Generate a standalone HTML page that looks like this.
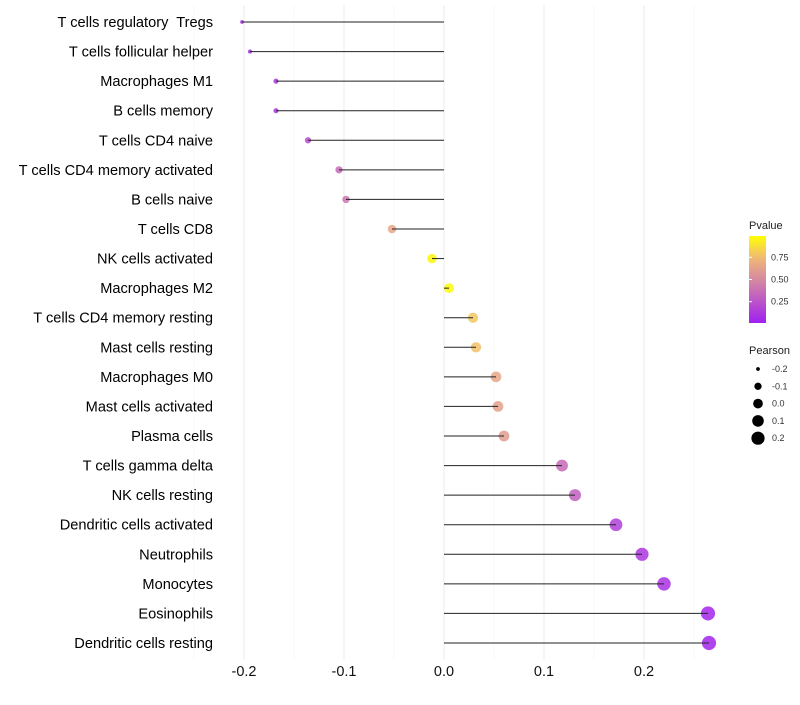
<!DOCTYPE html>
<html><head><meta charset="utf-8"><style>
body{margin:0;background:#fff;font-family:"Liberation Sans",sans-serif;}
text{white-space:pre;}
</style></head><body>
<svg id="chart" width="800" height="700" xmlns="http://www.w3.org/2000/svg"></svg>
<script>
const categories=["T cells regulatory  Tregs","T cells follicular helper","Macrophages M1","B cells memory","T cells CD4 naive","T cells CD4 memory activated","B cells naive","T cells CD8","NK cells activated","Macrophages M2","T cells CD4 memory resting","Mast cells resting","Macrophages M0","Mast cells activated","Plasma cells","T cells gamma delta","NK cells resting","Dendritic cells activated","Neutrophils","Monocytes","Eosinophils","Dendritic cells resting"];
const pearson=[-0.202,-0.194,-0.168,-0.168,-0.136,-0.105,-0.098,-0.052,-0.012,0.005,0.029,0.032,0.052,0.054,0.060,0.118,0.131,0.172,0.198,0.220,0.264,0.265];
const pvalues=[0.02,0.05,0.1,0.1,0.2,0.35,0.4,0.65,0.97,0.99,0.8,0.78,0.66,0.63,0.6,0.35,0.3,0.15,0.1,0.08,0.03,0.02];
const xTicks=[-0.2,-0.1,0.0,0.1,0.2];
const xTickLabels=["-0.2","-0.1","0.0","0.1","0.2"];
const legendP=[0.25,0.50,0.75];
const legendS=[-0.2,-0.1,0.0,0.1,0.2];
const NS="http://www.w3.org/2000/svg";
const svg=document.getElementById('chart');
function X(v){return 444+v*1000;}
function Y(i){return 22+i*(643-22)/21;}
function R(v){return Math.sqrt(Math.max(1,3.5+100*(v+0.2)));}
function lerp(a,b,t){return Math.round(a+(b-a)*t);}
const stops=[[0,[160,32,240]],[0.5,[214,138,160]],[0.75,[240,184,120]],[1,[255,255,0]]];
function col(p){for(let k=1;k<stops.length;k++){if(p<=stops[k][0]){const a=stops[k-1],b=stops[k];const t=(p-a[0])/(b[0]-a[0]);return `rgb(${lerp(a[1][0],b[1][0],t)},${lerp(a[1][1],b[1][1],t)},${lerp(a[1][2],b[1][2],t)})`;}}return 'rgb(255,255,0)';}
function el(t,at,txt){const e=document.createElementNS(NS,t);for(const k in at)e.setAttribute(k,at[k]);if(txt!==undefined)e.textContent=txt;svg.appendChild(e);return e;}
for(let v=-0.25;v<=0.251;v+=0.05){
 const major=Math.abs(Math.round(v*100)%10)===0;
 const g=el('line',{x1:X(v),x2:X(v),y1:5,y2:660,stroke:major?'#ebebeb':'#f5f5f5','stroke-width':major?1:0.6});
 
 
}
xTicks.forEach((t,i)=>{
 const e=el('text',{x:X(t),y:676,'text-anchor':'middle','font-size':14.5,fill:'#111'},xTickLabels[i]);
 
 
});
categories.forEach((c,i)=>{
 const y=Y(i);
 const l=el('text',{x:213,y:y+5,'text-anchor':'end','font-size':14.6,fill:'#000'},c);
 
 
 const p=el('circle',{cx:X(pearson[i]),cy:y,r:R(pearson[i]),fill:col(pvalues[i]),'fill-opacity':0.85});
 
 
 const s=el('line',{x1:X(0),x2:X(pearson[i]),y1:y,y2:y,stroke:'#222','stroke-width':1});
 
 
});
const lt=el('text',{x:749,y:229,'font-size':11,fill:'#222'},'Pvalue');


const defs=el('defs',{});
const lg=document.createElementNS(NS,'linearGradient');lg.setAttribute('id','pg');lg.setAttribute('x1',0);lg.setAttribute('y1',1);lg.setAttribute('x2',0);lg.setAttribute('y2',0);defs.appendChild(lg);
for(let k=0;k<=10;k++){const s=document.createElementNS(NS,'stop');s.setAttribute('offset',k/10);s.setAttribute('stop-color',col(k/10));lg.appendChild(s);}
const bar=el('rect',{x:749,y:236,width:17,height:87,fill:'url(#pg)'});


legendP.forEach(p=>{
 const y=323-(p-0.01)/(0.99-0.01)*87;
 const t=el('line',{x1:749,x2:752,y1:y,y2:y,stroke:'#fff'});
 
 
 const tx=el('text',{x:771,y:y+3,'font-size':9,fill:'#333'},p.toFixed(2));
 
 
});
const st=el('text',{x:749,y:354,'font-size':11,fill:'#222'},'Pearson');


legendS.forEach((v,i)=>{
 const y=369+i*17.3;
 const c=el('circle',{cx:758,cy:y,r:R(v),fill:'#000'});
 
 
 const t=el('text',{x:772,y:y+3,'font-size':9,fill:'#333'},v.toFixed(1));
 
 
});
</script>
</body></html>
